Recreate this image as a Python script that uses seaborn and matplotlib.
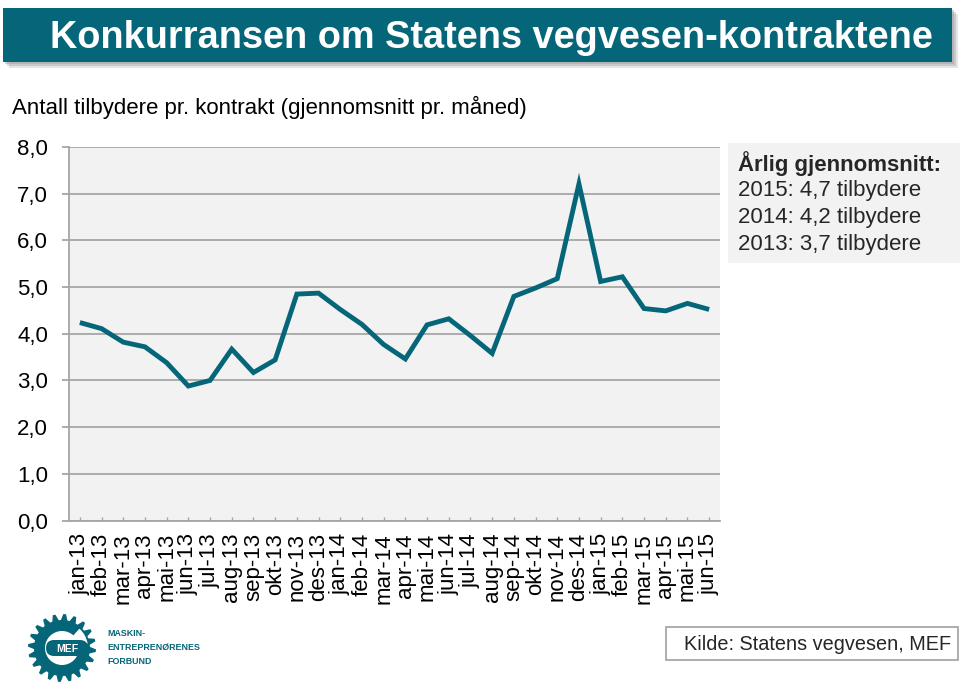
import numpy as np
import pandas as pd
import matplotlib
matplotlib.use("Agg")
import matplotlib.pyplot as plt
from matplotlib.patches import Rectangle, Polygon, Circle, FancyBboxPatch, Wedge
import seaborn as sns

# ---- data ----
months = ["jan-13", "feb-13", "mar-13", "apr-13", "mai-13", "jun-13", "jul-13", "aug-13",
          "sep-13", "okt-13", "nov-13", "des-13", "jan-14", "feb-14", "mar-14", "apr-14",
          "mai-14", "jun-14", "jul-14", "aug-14", "sep-14", "okt-14", "nov-14", "des-14",
          "jan-15", "feb-15", "mar-15", "apr-15", "mai-15", "jun-15"]
bidders = [4.24, 4.11, 3.82, 3.72, 3.38, 2.88, 3.00, 3.67, 3.17, 3.44,
           4.85, 4.87, 4.52, 4.20, 3.77, 3.46, 4.19, 4.32, 3.96, 3.58,
           4.80, 4.98, 5.18, 7.21, 5.12, 5.22, 4.54, 4.49, 4.65, 4.52]
y_ticks = [0, 1, 2, 3, 4, 5, 6, 7, 8]
y_tick_labels = ["0,0", "1,0", "2,0", "3,0", "4,0", "5,0", "6,0", "7,0", "8,0"]

title = "Konkurransen om Statens vegvesen-kontraktene"
subtitle = "Antall tilbydere pr. kontrakt (gjennomsnitt pr. måned)"
note_head = "Årlig gjennomsnitt:"
note_lines = ["2015: 4,7 tilbydere", "2014: 4,2 tilbydere", "2013: 3,7 tilbydere"]
source = "Kilde: Statens vegvesen, MEF"
logo_lines = ["MASKIN-", "ENTREPRENØRENES", "FORBUND"]

df = pd.DataFrame({"month": months, "value": bidders})

sns.set_theme(style="white")
plt.rcParams["font.family"] = ["Liberation Sans", "DejaVu Sans"]

TEAL = "#066679"
GRID = "#a6a6a6"
W, H = 960, 683

fig = plt.figure(figsize=(W / 100, H / 100), dpi=100)
fig.patch.set_facecolor("white")

# overlay in pixel coordinates for decoration
ov = fig.add_axes([0, 0, 1, 1], zorder=0)
ov.set_xlim(0, W)
ov.set_ylim(H, 0)
ov.axis("off")

# main axes
L, R, T, B = 69, 720, 147, 520.5
ax = fig.add_axes([L / W, 1 - B / H, (R - L) / W, (B - T) / H], zorder=1)
ax.set_facecolor("#f2f2f2")

sns.lineplot(data=df, x="month", y="value", sort=False, ax=ax, color=TEAL,
             linewidth=3.5, solid_joinstyle="miter", solid_capstyle="butt", zorder=3)

ax.set_xlim(-0.5, len(months) - 0.5)
ax.set_ylim(0, 8)
ax.set_yticks(y_ticks)
ax.set_yticklabels(y_tick_labels, fontsize=16)
ax.set_xticks(range(len(months)))
ax.set_xticklabels(months, rotation=90, fontsize=16)
ax.set_xlabel("")
ax.set_ylabel("")

ax.yaxis.grid(True, color=GRID, linewidth=1.3)
ax.xaxis.grid(False)
ax.set_axisbelow(True)
for s in ["top", "right"]:
    ax.spines[s].set_visible(False)
for s in ["left", "bottom"]:
    ax.spines[s].set_color(GRID)
    ax.spines[s].set_linewidth(1.3)
ax.tick_params(axis="y", direction="out", length=5, width=1.3, color=GRID, pad=10,
               left=True, labelcolor="black")
ax.tick_params(axis="x", direction="in", length=3, width=1.0, color=GRID, pad=9,
               bottom=True, labelcolor="black")

# title banner with shadow
for off, a in [(6, 0.25), (4, 0.35), (2, 0.45)]:
    ov.add_patch(Rectangle((3 + off, 8 + off), 949, 54, facecolor="#9a9a9a",
                           alpha=a, edgecolor="none"))
ov.add_patch(Rectangle((3, 8), 949, 54, facecolor=TEAL, edgecolor="none"))
ov.text(50, 37.5, title, color="white", fontsize=27.3, fontweight="bold",
        ha="left", va="center")

ov.text(12, 107, subtitle, fontsize=16, ha="left", va="center", color="black")

# annual average note
ov.add_patch(Rectangle((728, 143), 232, 120, facecolor="#f2f2f2", edgecolor="none"))
ov.text(738, 164, note_head, fontsize=16, fontweight="bold", ha="left", va="center")
for i, line in enumerate(note_lines):
    ov.text(738, 190.5 + 27 * i, line, fontsize=16, ha="left", va="center")

# source box
ov.add_patch(Rectangle((666, 627), 292, 33, facecolor="white", edgecolor="#a0a0a0",
                       linewidth=1.2))
ov.text(684, 645, source, fontsize=14.3, ha="left", va="center")

# MEF logo
cx, cy = 62, 648
n_teeth = 20
ang = np.linspace(0, 2 * np.pi, n_teeth * 4, endpoint=False)
rad = np.tile([34, 34, 28, 28], n_teeth)
gx = cx + rad * np.cos(ang + np.pi / (n_teeth * 4))
gy = cy + rad * np.sin(ang + np.pi / (n_teeth * 4))
ov.add_patch(Polygon(np.column_stack([gx, gy]), closed=True, facecolor=TEAL,
                     edgecolor="none"))
ov.add_patch(Circle((cx, cy), 17, facecolor="white", edgecolor="none"))
ov.add_patch(Wedge((cx, cy), 26, 312, 350, width=9.5, facecolor="white",
                   edgecolor="none"))
ov.add_patch(FancyBboxPatch((46, 640), 42, 16, boxstyle="round,pad=0,rounding_size=8",
                            facecolor=TEAL, edgecolor="none"))
ov.text(67, 648.5, "MEF", color="white", fontsize=7.5, fontweight="bold",
        ha="center", va="center")
for i, line in enumerate(logo_lines):
    ov.text(107, 633 + 14 * i, line, color=TEAL, fontsize=6.4, fontweight="bold",
            ha="left", va="center")

fig.savefig("out.png", dpi=100)
